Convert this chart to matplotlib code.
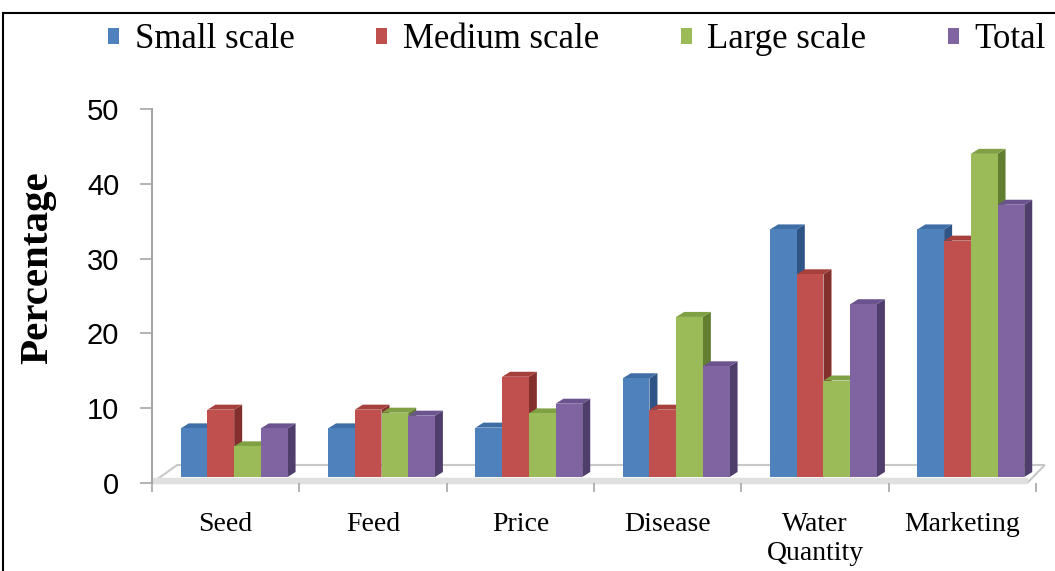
import numpy as np
import matplotlib.pyplot as plt
from matplotlib.patches import Polygon, Patch
from matplotlib.lines import Line2D

categories = ["Seed", "Feed", "Price", "Disease", "Water\nQuantity", "Marketing"]
series_names = ["Small scale", "Medium scale", "Large scale", "Total"]
small = [6.5, 6.5, 6.6, 13.2, 33.1, 33.1]
medium = [9.0, 9.0, 13.4, 9.0, 27.1, 31.6]
large = [4.1, 8.6, 8.5, 21.4, 12.9, 43.2]
total = [6.5, 8.2, 9.8, 14.8, 23.1, 36.4]
yticks = [0, 10, 20, 30, 40, 50]

front = ["#4F81BD", "#C0504D", "#9BBB59", "#8064A2"]
top_c = ["#3F6DA5", "#A6403D", "#80A044", "#6B5390"]
side_c = ["#2E5486", "#822F2D", "#627E31", "#4F3D6B"]

W, H = 1055, 571
fig = plt.figure(figsize=(W / 100, H / 100), dpi=100)
ax = fig.add_axes([152 / W, 88 / H, 884 / W, 374 / H])
ax.set_xlim(-0.5, 5.5)
ax.set_ylim(0, 50)

# fake 3d offsets (data units), px / scale
pxx = 884 / 6.0
pxy = 374 / 50.0
ddx, ddy = 8 / pxx, 5 / pxy          # bar depth
base = 6 / pxy                        # bar bottom above front edge
shift = 8.5 / pxx
bw = 26.7 / pxx

# floor
fl = Polygon([(-0.5, 0), (5.44, 0), (5.56, 18 / pxy), (-0.33, 18 / pxy)],
             closed=True, facecolor="white", edgecolor="#C8C8C8", lw=1.5,
             clip_on=False, zorder=1)
ax.add_patch(fl)
ax.fill_between([-0.5, 5.44], 0, base * 0.9, color="#E0E0E0", zorder=1.5, clip_on=False)

data = [small, medium, large, total]
x = np.arange(len(categories))
for i in range(len(categories)):
    for j, vals in enumerate(data):
        x0 = x[i] + shift - 2 * bw + j * bw
        x1 = x0 + bw
        yt = base + vals[i]
        z = 2 + j * 0.1
        ax.add_patch(Polygon([(x1, base), (x1 + ddx, base + ddy), (x1 + ddx, yt + ddy), (x1, yt)],
                             closed=True, facecolor=side_c[j], edgecolor="none", zorder=z))
        ax.add_patch(Polygon([(x0, yt), (x0 + ddx, yt + ddy), (x1 + ddx, yt + ddy), (x1, yt)],
                             closed=True, facecolor=top_c[j], edgecolor="none", zorder=z))
        ax.bar(x0, vals[i], width=bw, bottom=base, align="edge", color=front[j],
               edgecolor="none", zorder=z)

for s in ["top", "right", "bottom"]:
    ax.spines[s].set_visible(False)
ax.spines["left"].set_color("#A6A6A6")
ax.spines["left"].set_linewidth(1.5)

ax.set_yticks(yticks)
ax.set_yticklabels([str(t) for t in yticks], fontsize=21, family="Liberation Sans")
ax.tick_params(axis="y", length=8.6, width=1.2, color="#A6A6A6", pad=15)

ax.set_xticks(np.arange(-0.5, 6.0, 1.0))
ax.set_xticklabels([])
ax.tick_params(axis="x", which="major", length=6.5, width=1.2, color="#A6A6A6")
ax.set_xticks(x, minor=True)
ax.set_xticklabels(categories, minor=True, fontsize=20, family="Liberation Serif",
                   linespacing=1.2)
ax.tick_params(axis="x", which="minor", length=0, pad=21)

fig.text(38 / W, 1 - 268 / H, "Percentage", rotation=90, fontsize=29.5, fontweight="bold",
         family="Liberation Serif", ha="center", va="center")

handles = [Patch(facecolor=c, edgecolor="none") for c in front]
fig.legend(handles, series_names, loc="center", bbox_to_anchor=(577 / W, 1 - 40 / H),
           ncol=4, frameon=False, prop={"family": "Liberation Serif", "size": 25},
           handlelength=0.32, handleheight=0.36, handletextpad=0.45, columnspacing=2.35)

# frame lines of the original picture
fig.add_artist(Line2D([3 / W, 1], [1 - 13 / H, 1 - 13 / H], color="black", lw=1.5))
fig.add_artist(Line2D([3 / W, 3 / W], [0, 1 - 13 / H], color="black", lw=1.5))

fig.savefig("out.png", dpi=100)
